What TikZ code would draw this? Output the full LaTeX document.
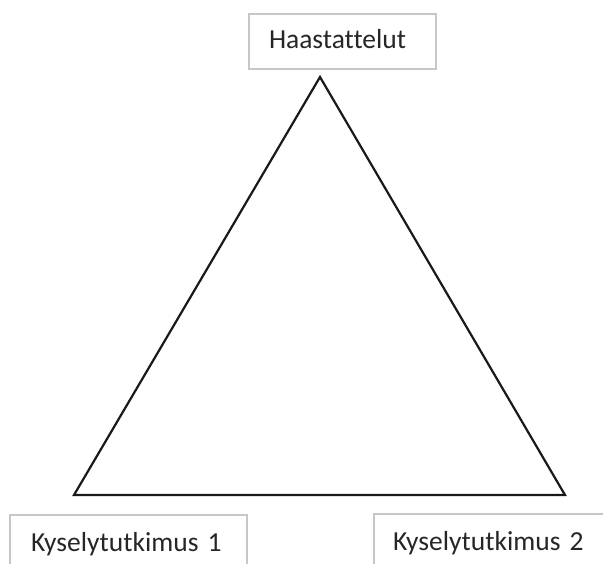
\documentclass[tikz,border=0pt]{standalone}
\usepackage{fontspec}
\setmainfont{Carlito}[Ligatures=NoCommon]
\usepackage{tikz}

\tikzset{
  label box/.style = {draw=black!22, line width=2pt, inner sep=0pt, align=left,
    font=\fontsize{27.5}{33}\selectfont, text=black!85},
  side/.style = {line width=2.2pt, black!90}
}

\begin{document}
\begin{tikzpicture}[x=1pt, y=1pt]
\useasboundingbox (0,0) rectangle (603,563);
% corners of the triangle
\coordinate (apex) at (320,486);
\coordinate (left corner) at (74,68);
\coordinate (right corner) at (565,68);
\draw[side] (apex) -- (left corner) -- (right corner) -- cycle;
% the three sources
\node[label box, anchor=north west, inner xsep=20pt, text width=147pt,
  text height=35pt, text depth=20pt] (interviews) at (248,550) {Haastattelut};
\node[label box, anchor=north west, inner xsep=21pt, text width=195pt,
  text height=36pt, text depth=40pt] (survey1) at (9,49) {Kyselytutkimus 1};
\node[label box, anchor=north west, inner xsep=19pt, text width=240pt,
  text height=36pt, text depth=40pt] (survey2) at (373,50) {Kyselytutkimus 2};
\end{tikzpicture}
\end{document}
